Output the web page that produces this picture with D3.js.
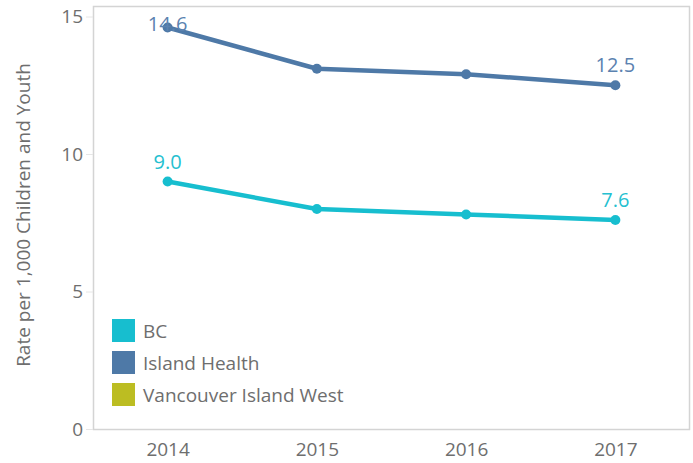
<!DOCTYPE html>
<html>
<head>
<meta charset="utf-8">
<script src="https://cdn.jsdelivr.net/npm/d3@7"></script>
<style>
  body { margin: 0; background: #fff; }
  text { font-family: "Open Sans", "Noto Sans", sans-serif; }
</style>
</head>
<body>
<script>
// data
var years = ["2014", "2015", "2016", "2017"];
var bcRates = [9.0, 8.0, 7.8, 7.6];
var islandHealthRates = [14.6, 13.1, 12.9, 12.5];
var yTicks = [0, 5, 10, 15];
var legendNames = ["BC", "Island Health", "Vancouver Island West"];
var legendColors = ["#17becf", "#4e79a7", "#bcbd22"];

var width = 693, height = 463;
var margin = {top: 6, right: 3, bottom: 34, left: 93};
var plotBottom = 429;

var svg = d3.select("body").append("svg")
    .attr("width", width)
    .attr("height", height);

var x = d3.scalePoint()
    .domain(years)
    .range([margin.left, width - margin.right])
    .padding(0.5);

var y = d3.scaleLinear()
    .domain([0, 15])
    .range([plotBottom, 16.5]);

// frame
svg.append("rect")
    .attr("x", margin.left + 0.5)
    .attr("y", margin.top + 0.5)
    .attr("width", width - margin.right - margin.left - 1)
    .attr("height", plotBottom - margin.top)
    .attr("fill", "none")
    .attr("stroke", "#d4d4d4")
    .attr("stroke-width", 1.5);

// y axis
var yAxis = svg.append("g")
    .attr("transform", "translate(" + margin.left + ",0)")
    .call(d3.axisLeft(y).tickValues(yTicks).tickSize(7).tickPadding(3));
yAxis.select(".domain").remove();
yAxis.selectAll(".tick line").attr("stroke", "#e6e6e6");
yAxis.selectAll(".tick text")
    .attr("fill", "#6e6e6e")
    .style("font-size", "19px");

svg.append("text")
    .attr("transform", "translate(30,215) rotate(-90)")
    .attr("text-anchor", "middle")
    .attr("fill", "#6e6e6e")
    .style("font-size", "19px")
    .text("Rate per 1,000 Children and Youth");

// x axis
var xAxis = svg.append("g")
    .attr("transform", "translate(0," + plotBottom + ")")
    .call(d3.axisBottom(x).tickSize(0).tickPadding(14));
xAxis.select(".domain").remove();
xAxis.selectAll(".tick text")
    .attr("fill", "#6e6e6e")
    .style("font-size", "19px");

// lines
var series = [
    {name: "Island Health", values: islandHealthRates, color: "#4e79a7", label: "#5b82b0"},
    {name: "BC", values: bcRates, color: "#17becf", label: "#25c0d0"}
];

var line = d3.line()
    .x(function(d, i) { return x(years[i]); })
    .y(function(d) { return y(d); });

series.forEach(function(s) {
    svg.append("path")
        .datum(s.values)
        .attr("fill", "none")
        .attr("stroke", s.color)
        .attr("stroke-width", 4.5)
        .attr("stroke-linejoin", "round")
        .attr("d", line);

    svg.selectAll(null)
        .data(s.values)
        .enter()
        .append("circle")
        .attr("cx", function(d, i) { return x(years[i]); })
        .attr("cy", function(d) { return y(d); })
        .attr("r", 5)
        .attr("fill", s.color);

    // labels on first and last point, kept inside the frame
    [0, s.values.length - 1].forEach(function(i) {
        svg.append("text")
            .attr("x", x(years[i]))
            .attr("y", Math.max(y(s.values[i]) - 13, 31))
            .attr("text-anchor", "middle")
            .attr("fill", s.label)
            .style("font-size", "20px")
            .text(d3.format(".1f")(s.values[i]));
    });
});

// legend
var legend = svg.selectAll(".legend")
    .data(legendNames)
    .enter()
    .append("g")
    .attr("transform", function(d, i) { return "translate(112," + (319 + i * 32) + ")"; });

legend.append("rect")
    .attr("width", 23)
    .attr("height", 23)
    .attr("fill", function(d, i) { return legendColors[i]; });

legend.append("text")
    .attr("x", 31)
    .attr("y", 12)
    .attr("dy", "0.35em")
    .attr("fill", "#6e6e6e")
    .style("font-size", "19px")
    .text(function(d) { return d; });
</script>
</body>
</html>
